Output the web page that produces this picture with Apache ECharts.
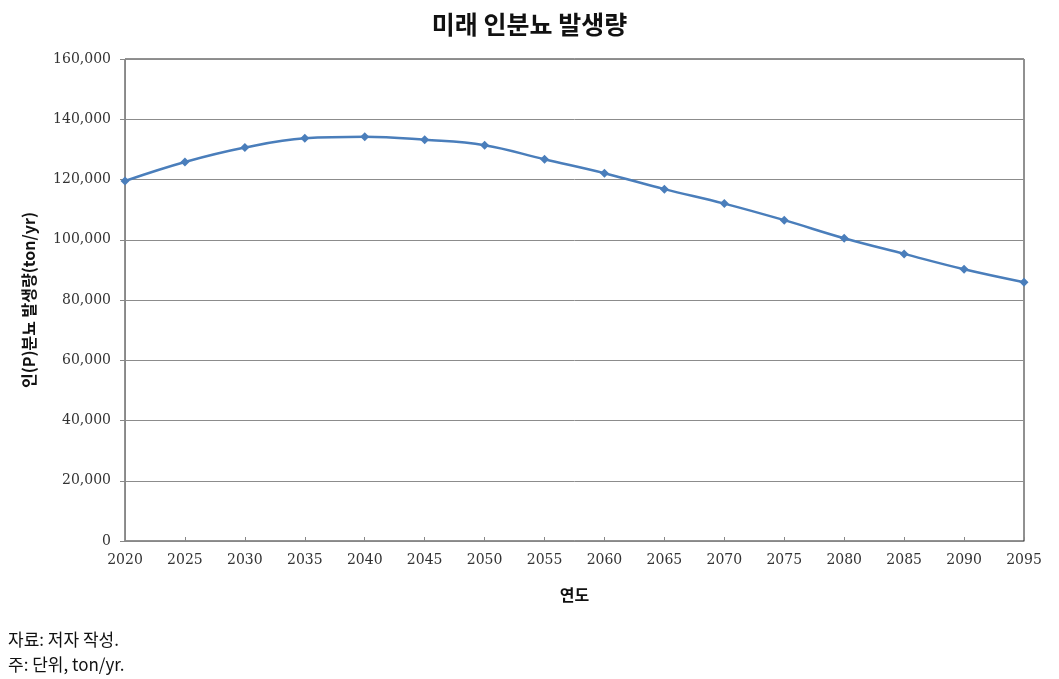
<!DOCTYPE html>
<html><head><meta charset="utf-8">
<script src="https://cdn.jsdelivr.net/npm/echarts@6/dist/echarts.min.js"></script>
<style>html,body{margin:0;padding:0;background:#fff}#c{width:1059px;height:679px}</style>
</head><body><div id="c"></div>
<script>
const years = ['2020','2025','2030','2035','2040','2045','2050','2055','2060','2065','2070','2075','2080','2085','2090','2095'];
const values = [119500,125800,130600,133700,134200,133200,131400,126700,122100,116800,112000,106500,100500,95300,90200,85900];
const yTicks = {min:0, max:160000, interval:20000};
const titleText = '미래 인분뇨 발생량';
const yName = '인(P)분뇨 발생량(ton/yr)';
const xName = '연도';
const notes = ['자료: 저자 작성.', '주: 단위, ton/yr.'];

const serif = "'DejaVu Serif','Liberation Serif','Noto Sans CJK KR',serif";
const kfont = "'Noto Sans CJK KR','Noto Sans',sans-serif";
const chart = echarts.init(document.getElementById('c'));
chart.setOption({
  animation:false,
  title:{text:titleText,left:'center',top:7,textStyle:{fontFamily:kfont,fontSize:25,fontWeight:'bold',color:'#111'}},
  graphic:[
    {type:'text',left:8,top:631,style:{text:notes[0],fontFamily:kfont,fontSize:17,fill:'#111'}},
    {type:'text',left:8,top:656,style:{text:notes[1],fontFamily:kfont,fontSize:17,fill:'#111'}}
  ],
  grid:{left:125,right:35,top:59,bottom:138,show:true,borderColor:'#222',borderWidth:1},
  xAxis:{type:'category',data:years,boundaryGap:false,
    name:xName,nameLocation:'middle',nameGap:46,
    nameTextStyle:{fontFamily:kfont,fontSize:16,fontWeight:'bold',color:'#111'},
    axisLine:{lineStyle:{color:'#888',width:1}},
    axisTick:{show:true,inside:true,length:4,lineStyle:{color:'#888'}},
    axisLabel:{fontFamily:serif,fontSize:14,color:'#333',margin:12}},
  yAxis:{type:'value',min:yTicks.min,max:yTicks.max,interval:yTicks.interval,
    name:yName,nameLocation:'middle',nameGap:88,
    nameTextStyle:{fontFamily:kfont,fontSize:16,fontWeight:'bold',color:'#111'},
    axisLine:{show:true,lineStyle:{color:'#888',width:1}},
    axisTick:{show:true,length:5,lineStyle:{color:'#888'}},
    splitLine:{lineStyle:{color:'#8c8c8c',width:1}},
    axisLabel:{fontFamily:serif,fontSize:14,color:'#333',margin:14,
      formatter:v=>v.toLocaleString('en-US')}},
  series:[{type:'line',data:values,smooth:0.4,symbol:'diamond',symbolSize:9,
    lineStyle:{color:'#4a7ebb',width:2.5},itemStyle:{color:'#4a7ebb'}}]
});
</script></body></html>
